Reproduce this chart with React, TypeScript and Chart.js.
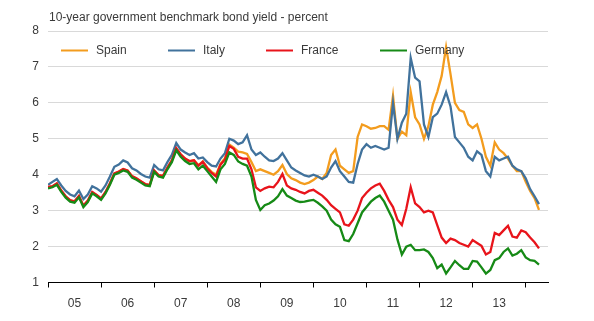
import { useEffect, useRef } from "react";
import { Chart, registerables } from "chart.js";

Chart.register(...registerables);

const TITLE = "10-year government benchmark bond yield - percent";
const START_YEAR = 2005;
const X_MIN = 2005;
const X_MAX = 2014.42;
const yearLabels = ["05", "06", "07", "08", "09", "10", "11", "12", "13"];
const yTicks = [1, 2, 3, 4, 5, 6, 7, 8];

// Monthly readings, Jan 2005 .. Apr 2014
const spain = [
  3.65, 3.67, 3.75, 3.55, 3.39, 3.28, 3.25, 3.40, 3.13, 3.27, 3.51, 3.43,
  3.33, 3.51, 3.75, 4.03, 4.08, 4.15, 4.11, 3.95, 3.89, 3.81, 3.73, 3.71,
  4.11, 3.98, 3.96, 4.19, 4.39, 4.73, 4.56, 4.44, 4.37, 4.40, 4.26, 4.37,
  4.20, 4.08, 4.00, 4.30, 4.46, 4.84, 4.75, 4.64, 4.62, 4.58, 4.35, 4.10,
  4.15, 4.10, 4.05, 4.00, 4.10, 4.27, 4.02, 3.90, 3.85, 3.78, 3.74, 3.78,
  3.85, 3.95, 3.88, 4.05, 4.55, 4.70, 4.25, 4.15, 4.05, 4.10, 5.05, 5.40,
  5.35, 5.28, 5.30, 5.35, 5.35, 5.25, 6.20, 5.00, 5.20, 5.10, 6.30, 5.60,
  5.40, 5.00, 5.35, 5.95, 6.30, 6.75, 7.55, 6.80, 6.00, 5.80, 5.75, 5.40,
  5.30, 5.40, 5.00, 4.50, 4.25, 4.90, 4.70, 4.60, 4.45, 4.25, 4.10, 4.10,
  3.80, 3.55, 3.35, 3.02,
];
const italy = [
  3.72, 3.80, 3.88, 3.70, 3.55, 3.45, 3.40, 3.56, 3.32, 3.45, 3.68, 3.62,
  3.53, 3.70, 3.95, 4.22, 4.28, 4.40, 4.34, 4.18, 4.12, 4.02, 3.95, 3.92,
  4.27, 4.15, 4.12, 4.35, 4.55, 4.88, 4.70, 4.62, 4.55, 4.60, 4.45, 4.48,
  4.35, 4.25, 4.23, 4.45, 4.60, 5.00, 4.95, 4.85, 4.90, 5.10, 4.70, 4.55,
  4.62, 4.50, 4.40, 4.38, 4.45, 4.60, 4.40, 4.20, 4.12, 4.05, 3.98, 3.95,
  4.00, 3.95, 3.88, 3.95, 4.20, 4.38, 4.10, 3.95, 3.80, 3.78, 4.30, 4.70,
  4.85, 4.75, 4.80, 4.75, 4.70, 4.75, 6.00, 5.00, 5.45, 5.70, 7.25, 6.70,
  6.60, 5.40, 5.05, 5.60, 5.70, 5.95, 6.30, 5.90, 5.05, 4.90, 4.75, 4.50,
  4.40, 4.65, 4.55, 4.10, 3.95, 4.50, 4.40, 4.45, 4.50, 4.25, 4.15, 4.10,
  3.90, 3.60, 3.40, 3.18,
];
const france = [
  3.66, 3.68, 3.76, 3.56, 3.40, 3.29, 3.26, 3.41, 3.14, 3.28, 3.52, 3.44,
  3.34, 3.52, 3.76, 4.04, 4.09, 4.16, 4.12, 3.96, 3.90, 3.82, 3.74, 3.72,
  4.12, 3.99, 3.97, 4.20, 4.40, 4.74, 4.57, 4.45, 4.38, 4.40, 4.25, 4.36,
  4.18, 4.05, 3.95, 4.28, 4.42, 4.80, 4.72, 4.50, 4.45, 4.45, 4.15, 3.65,
  3.55, 3.62, 3.67, 3.65, 3.80, 4.02, 3.70, 3.62, 3.58, 3.52, 3.48, 3.55,
  3.58, 3.50, 3.42, 3.30, 3.15, 3.05, 2.95, 2.62, 2.58, 2.75, 3.00, 3.35,
  3.50, 3.62, 3.70, 3.75, 3.55, 3.30, 3.10, 2.75, 2.60, 3.05, 3.65, 3.20,
  3.10, 2.95, 3.00, 2.95, 2.60, 2.25, 2.10, 2.22, 2.18, 2.10, 2.05, 2.00,
  2.18, 2.10, 2.02, 1.78, 1.85, 2.38, 2.32, 2.45, 2.58, 2.28, 2.25, 2.45,
  2.40, 2.25, 2.12, 1.95,
];
const germany = [
  3.62, 3.65, 3.72, 3.52, 3.36, 3.25, 3.22, 3.37, 3.10, 3.24, 3.48, 3.40,
  3.30, 3.48, 3.72, 4.00, 4.05, 4.12, 4.08, 3.92, 3.86, 3.78, 3.70, 3.68,
  4.08, 3.95, 3.92, 4.15, 4.35, 4.68, 4.50, 4.38, 4.30, 4.32, 4.15, 4.25,
  4.10, 3.95, 3.80, 4.15, 4.30, 4.62, 4.55, 4.37, 4.30, 4.25, 3.95, 3.30,
  3.02, 3.15, 3.20, 3.28, 3.40, 3.60, 3.42, 3.35, 3.28, 3.24, 3.25, 3.28,
  3.30, 3.22, 3.12, 3.00, 2.75, 2.62, 2.55, 2.18, 2.15, 2.35, 2.65, 2.95,
  3.10, 3.25, 3.35, 3.42, 3.25, 3.00, 2.75, 2.20, 1.78, 2.00, 2.05, 1.90,
  1.90, 1.92, 1.85, 1.68, 1.40, 1.50, 1.25, 1.42, 1.60, 1.48, 1.38, 1.38,
  1.60, 1.58, 1.42, 1.25, 1.35, 1.62, 1.68, 1.85, 1.95, 1.75, 1.80, 1.90,
  1.70, 1.62, 1.60, 1.50,
];

const seriesNames = ["Spain", "Italy", "France", "Germany"];
const seriesValues = [spain, italy, france, germany];
const seriesColors = ["#F39C1E", "#41729C", "#E8141B", "#168A16"];
const seriesOrder = [3, 2, 1, 0];

const FONT_FAMILY = '"Liberation Sans", Arial, sans-serif';
const TEXT_COLOR = "#3a3a3a";

const toPoints = (vals: number[]) =>
  vals.map((v, i) => ({ x: START_YEAR + i / 12, y: v }));

const overlayPlugin = {
  id: "overlay",
  afterDraw(chart: any) {
    const { ctx, chartArea } = chart;
    ctx.save();
    ctx.font = `12px ${FONT_FAMILY}`;
    ctx.fillStyle = TEXT_COLOR;
    ctx.textBaseline = "middle";
    ctx.textAlign = "left";
    ctx.fillText(TITLE, chartArea.left + 1, 17.5);
    const offsets = [13, 120, 218, 332];
    const ly = chartArea.top + 19.5;
    seriesNames.forEach((name, i) => {
      const x0 = chartArea.left + offsets[i];
      ctx.strokeStyle = seriesColors[i];
      ctx.lineWidth = 2;
      ctx.beginPath();
      ctx.moveTo(x0, ly);
      ctx.lineTo(x0 + 27, ly);
      ctx.stroke();
      ctx.fillStyle = TEXT_COLOR;
      ctx.fillText(name, x0 + 35, ly + 0.5);
    });
    ctx.restore();
  },
};

export default function App() {
  const ref = useRef<HTMLCanvasElement | null>(null);
  useEffect(() => {
    if (!ref.current) return;
    const chart = new Chart(ref.current, {
      type: "line",
      data: {
        datasets: seriesNames.map((name, i) => ({
          label: name,
          data: toPoints(seriesValues[i]),
          borderColor: seriesColors[i],
          backgroundColor: seriesColors[i],
          borderWidth: 2.3,
          pointRadius: 0,
          tension: 0,
          order: seriesOrder[i],
        })),
      },
      options: {
        animation: false,
        responsive: false,
        layout: { padding: { top: 31, right: 46, bottom: 0, left: 0 } },
        plugins: { legend: { display: false }, tooltip: { enabled: false } },
        scales: {
          x: {
            type: "linear",
            min: X_MIN,
            max: X_MAX,
            afterBuildTicks: (s: any) => {
              s.ticks = yearLabels.map((_, i) => ({ value: START_YEAR + i + 0.5 }));
            },
            ticks: {
              autoSkip: false,
              maxRotation: 0,
              minRotation: 0,
              padding: 9,
              color: TEXT_COLOR,
              font: { family: FONT_FAMILY, size: 12 },
              callback: (_v: any, i: number) => yearLabels[i],
            },
            grid: {
              offset: true,
              drawOnChartArea: false,
              drawTicks: true,
              tickLength: 5,
              color: "#000000",
              lineWidth: 1,
            },
            border: { display: true, color: "#000000", width: 1 },
            afterFit: (s: any) => {
              s.height = 38.5;
            },
          },
          y: {
            type: "linear",
            min: 1,
            max: 8,
            afterBuildTicks: (s: any) => {
              s.ticks = yTicks.map((v) => ({ value: v }));
            },
            ticks: {
              padding: 9,
              color: TEXT_COLOR,
              font: { family: FONT_FAMILY, size: 12 },
            },
            grid: { drawTicks: false, color: "#d9d9d9", lineWidth: 1 },
            border: { display: false },
            afterFit: (s: any) => {
              s.width = 48;
            },
          },
        },
      },
      plugins: [overlayPlugin],
    } as any);
    return () => chart.destroy();
  }, []);
  return (
    <div
      style={{
        position: "fixed",
        left: 0,
        top: 0,
        width: 594,
        height: 321,
        background: "#ffffff",
      }}
    >
      <canvas ref={ref} width={594} height={321} />
    </div>
  );
}
